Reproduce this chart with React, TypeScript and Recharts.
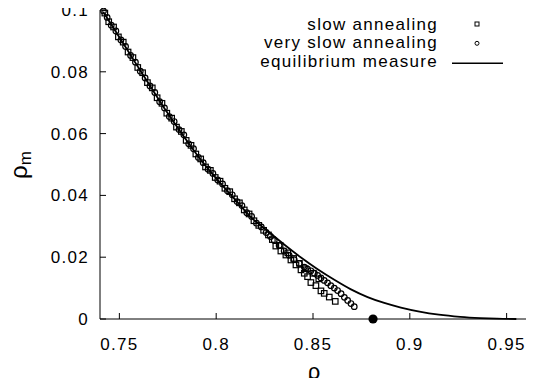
import React from 'react';
import { ComposedChart, Line, Scatter, XAxis, YAxis } from 'recharts';

const W = 541;
const H = 386;
const FONT = '"Liberation Sans", Arial, Helvetica, sans-serif';

const xTicks = [0.75, 0.8, 0.85, 0.9, 0.95];
const yTicks = [0, 0.02, 0.04, 0.06, 0.08, 0.1];

const slowRho = [
  0.7425, 0.7445, 0.747, 0.7495, 0.752, 0.7545, 0.757, 0.7595, 0.762, 0.7645,
  0.767, 0.7695, 0.772, 0.7745, 0.777, 0.7795, 0.782, 0.7845, 0.787, 0.7895,
  0.792, 0.7945, 0.797, 0.7995, 0.802, 0.8045, 0.807, 0.8095, 0.812, 0.8145,
  0.817, 0.8195, 0.822, 0.8245, 0.827, 0.829, 0.8308, 0.833, 0.8334, 0.836,
  0.837, 0.8386, 0.84, 0.8412, 0.843, 0.8438, 0.8455, 0.846, 0.8472, 0.8489,
  0.85, 0.8515, 0.853, 0.8541, 0.8558, 0.8584, 0.8615,
];
const slowRm = [
  0.099, 0.0962, 0.0945, 0.0913, 0.0896, 0.0864, 0.0846, 0.0814, 0.0797, 0.0765,
  0.0748, 0.0716, 0.0698, 0.0666, 0.065, 0.0621, 0.0607, 0.0578, 0.0562, 0.0534,
  0.0518, 0.0492, 0.0481, 0.0458, 0.0446, 0.0423, 0.0412, 0.0389, 0.0376, 0.0353,
  0.034, 0.0318, 0.0303, 0.0287, 0.0272, 0.0257, 0.0236, 0.0238, 0.022, 0.0207,
  0.0214, 0.0191, 0.0196, 0.0175, 0.018, 0.0159, 0.0148, 0.0163, 0.0137, 0.0118,
  0.0148, 0.0108, 0.013, 0.0091, 0.0083, 0.0071, 0.0057,
];

const verySlowRho = [
  0.7418, 0.7437, 0.7458, 0.7482, 0.7508, 0.7532, 0.7558, 0.7583, 0.7608, 0.7633,
  0.7658, 0.7683, 0.7708, 0.7733, 0.7758, 0.7783, 0.7808, 0.7833, 0.7858, 0.7883,
  0.7908, 0.7933, 0.7958, 0.7983, 0.8008, 0.8033, 0.8058, 0.8083, 0.8108, 0.8133,
  0.8158, 0.8183, 0.8208, 0.8233, 0.8258, 0.828, 0.83, 0.8325, 0.8351, 0.8377,
  0.8403, 0.8429, 0.8455, 0.8472, 0.8489, 0.8507, 0.8524, 0.8541, 0.8558, 0.8575,
  0.8592, 0.861, 0.8627, 0.8645, 0.8662, 0.8679, 0.8696, 0.8713,
];
const verySlowRm = [
  0.0997, 0.0976, 0.0951, 0.0932, 0.0903, 0.0882, 0.0853, 0.0831, 0.0802, 0.078,
  0.0754, 0.0733, 0.0703, 0.0683, 0.0655, 0.0639, 0.0613, 0.0596, 0.0567, 0.0551,
  0.0523, 0.0506, 0.0485, 0.0471, 0.045, 0.0437, 0.0415, 0.0402, 0.038, 0.0367,
  0.0344, 0.0332, 0.031, 0.0298, 0.028, 0.0267, 0.0254, 0.0238, 0.022, 0.0206,
  0.0192, 0.018, 0.0168, 0.0161, 0.0156, 0.0148, 0.0141, 0.0133, 0.0125, 0.0117,
  0.0108, 0.01, 0.0092, 0.0082, 0.007, 0.006, 0.005, 0.004,
];

const eqRho = [
  0.7417, 0.75, 0.7579, 0.766, 0.7743, 0.7837, 0.7932, 0.802, 0.8104, 0.8179,
  0.8283, 0.8351, 0.8438, 0.8524, 0.861, 0.8696, 0.8782, 0.8868, 0.8954, 0.905,
  0.915, 0.926, 0.9364, 0.945, 0.955,
];
const eqRm = [
  0.0994, 0.0912, 0.0833, 0.0753, 0.0672, 0.0587, 0.0506, 0.0441, 0.0382, 0.033,
  0.0276, 0.0241, 0.0199, 0.0161, 0.0127, 0.0096, 0.0071, 0.0052, 0.0037, 0.0024,
  0.0014, 0.0007, 0.0003, 0.0001, 0,
];

const critRho = [0.881];
const critRm = [0];

const zip = (xs: number[], ys: number[]) => xs.map((x, i) => ({ x, y: ys[i] }));
const slowData = zip(slowRho, slowRm);
const verySlowData = zip(verySlowRho, verySlowRm);
const eqData = zip(eqRho, eqRm);
const critData = zip(critRho, critRm);

const SquareShape = (p: any) => (
  <rect x={p.cx - 2.75} y={p.cy - 2.75} width={5.5} height={5.5} fill="none" stroke="#000" strokeWidth={1.2} />
);
const CircleShape = (p: any) => (
  <circle cx={p.cx} cy={p.cy} r={2.8} fill="none" stroke="#000" strokeWidth={1.2} />
);
const DotShape = (p: any) => <circle cx={p.cx} cy={p.cy} r={4.6} fill="#000" />;
const EmptyTick = () => <g />;

const tickStyle = { fill: '#000', fontSize: 17 };

export default function App() {
  return (
    <div
      style={{
        position: 'relative',
        width: W,
        height: H,
        margin: -8,
        fontFamily: FONT,
        letterSpacing: '1.3px',
        background: '#fff',
      }}
    >
      <ComposedChart width={W} height={H} margin={{ top: 10, right: 15, bottom: 0, left: 0 }}>
        <XAxis
          xAxisId="b"
          type="number"
          dataKey="x"
          domain={[0.74, 0.96]}
          ticks={xTicks}
          interval={0}
          height={67}
          tickSize={-6}
          tickMargin={25}
          tick={tickStyle}
          tickFormatter={(v: number) => String(v)}
          axisLine={{ stroke: '#000', strokeWidth: 1 }}
          tickLine={{ stroke: '#000' }}
        />
        <XAxis
          xAxisId="t"
          orientation="top"
          type="number"
          domain={[0.74, 0.96]}
          ticks={xTicks}
          interval={0}
          height={0}
          tickSize={-6}
          tick={EmptyTick}
          axisLine={{ stroke: '#000', strokeWidth: 1 }}
          tickLine={{ stroke: '#000' }}
        />
        <YAxis
          yAxisId="l"
          type="number"
          dataKey="y"
          domain={[0, 0.1]}
          ticks={yTicks}
          interval={0}
          width={100}
          tickSize={-6}
          tickMargin={17}
          tick={tickStyle}
          tickFormatter={(v: number) => String(v)}
          axisLine={{ stroke: '#000', strokeWidth: 1 }}
          tickLine={{ stroke: '#000' }}
        />
        <YAxis
          yAxisId="r"
          orientation="right"
          type="number"
          domain={[0, 0.1]}
          ticks={yTicks}
          interval={0}
          width={0}
          tickSize={-6}
          tick={EmptyTick}
          axisLine={{ stroke: '#000', strokeWidth: 1 }}
          tickLine={{ stroke: '#000' }}
        />
        <Scatter xAxisId="b" yAxisId="l" data={slowData} shape={SquareShape} isAnimationActive={false} />
        <Scatter xAxisId="b" yAxisId="l" data={verySlowData} shape={CircleShape} isAnimationActive={false} />
        <Line
          xAxisId="b"
          yAxisId="l"
          data={eqData}
          dataKey="y"
          type="monotone"
          dot={false}
          activeDot={false}
          stroke="#000"
          strokeWidth={1.8}
          isAnimationActive={false}
        />
        <Scatter xAxisId="b" yAxisId="l" data={critData} shape={DotShape} isAnimationActive={false} />
      </ComposedChart>
      <svg
        width={W}
        height={H}
        style={{ position: 'absolute', left: 0, top: 0, pointerEvents: 'none', overflow: 'visible' }}
      >
        <g fontSize={17} fill="#000" textAnchor="end">
          <text x={438} y={29.5}>slow annealing</text>
          <text x={438} y={48}>very slow annealing</text>
          <text x={438} y={66.5}>equilibrium measure</text>
        </g>
        <rect x={475} y={22} width={4} height={4} fill="none" stroke="#000" strokeWidth={1} />
        <circle cx={477} cy={43.3} r={2} fill="none" stroke="#000" strokeWidth={1} />
        <line x1={452} y1={63.3} x2={503} y2={63.3} stroke="#000" strokeWidth={1.5} />
        <text x={314} y={379} fontSize={22} textAnchor="middle" fill="#000" style={{ letterSpacing: 0 }}>ρ</text>
        <text
          transform="translate(27,165) rotate(-90)"
          fontSize={24}
          textAnchor="middle"
          fill="#000"
          style={{ letterSpacing: 0 }}
        >
          ρ<tspan fontSize={17} dy={4}>m</tspan>
        </text>
      </svg>
    </div>
  );
}
